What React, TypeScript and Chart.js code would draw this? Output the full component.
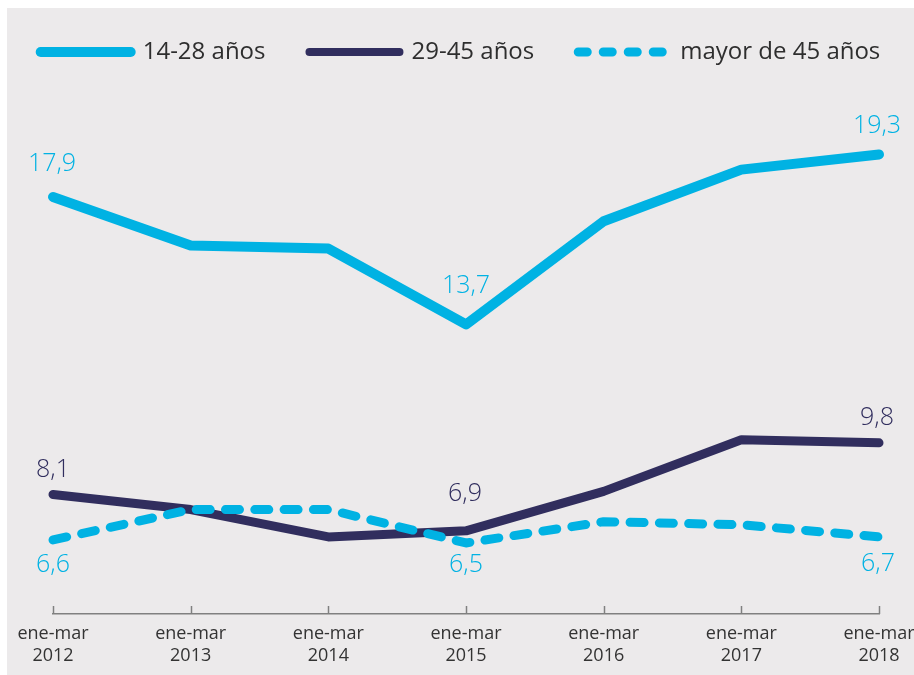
import React, { useEffect, useRef } from "react";
import { Chart, registerables } from "chart.js";

Chart.register(...registerables);

// ---------- data ----------
const categories: string[][] = [
  ["ene-mar", "2012"],
  ["ene-mar", "2013"],
  ["ene-mar", "2014"],
  ["ene-mar", "2015"],
  ["ene-mar", "2016"],
  ["ene-mar", "2017"],
  ["ene-mar", "2018"],
];
const seriesNames = ["14-28 años", "29-45 años", "mayor de 45 años"];
const youth = [17.9, 16.3, 16.2, 13.7, 17.1, 18.8, 19.3];
const adults = [8.1, 7.6, 6.7, 6.9, 8.2, 9.9, 9.8];
const seniors = [6.6, 7.6, 7.6, 6.5, 7.2, 7.1, 6.7];
const labelledIndices = [0, 3, 6];
const yMin = 4.16;
const yMax = 21.95;

// ---------- styles ----------
const LIGHT = "#00b2e3";
const NAVY = "#312e5e";
const TEXT = "#2e2e2e";
const AXIS = "#808080";
const BG = "#ecEAEB";
const FONT = '"Open Sans", "Noto Sans", sans-serif';

// label offsets (px, relative to point) per series, for labelledIndices
const labelOffsets = [
  [{ dx: -1, dy: -33 }, { dx: 0, dy: -39 }, { dx: -2, dy: -29 }],
  [{ dx: 0, dy: -25 }, { dx: -1, dy: -37 }, { dx: -2, dy: -25 }],
  [{ dx: 0, dy: 25 }, { dx: 0, dy: 22 }, { dx: -1, dy: 27 }],
];
const legendWidths = [10, 8, 9];
const legendDashes: number[][] = [[], [], [9, 16]];

const fmt = (v: number) => v.toFixed(1).replace(".", ",");

const valueLabelsPlugin = {
  id: "valueLabels",
  afterDatasetsDraw(chart: any) {
    const ctx = chart.ctx;
    ctx.save();
    ctx.font = `300 25px ${FONT}`;
    ctx.textAlign = "center";
    ctx.textBaseline = "middle";
    chart.data.datasets.forEach((ds: any, di: number) => {
      const meta = chart.getDatasetMeta(di);
      labelledIndices.forEach((idx, k) => {
        const pt = meta.data[idx];
        if (!pt) return;
        const off = labelOffsets[di][k];
        ctx.fillStyle = ds.borderColor;
        ctx.fillText(fmt(ds.data[idx]), pt.x + off.dx, pt.y + off.dy);
      });
    });
    ctx.restore();
  },
};

const upTicksPlugin = {
  id: "upTicks",
  afterDraw(chart: any) {
    const x = chart.scales.x;
    const ctx = chart.ctx;
    ctx.save();
    ctx.strokeStyle = AXIS;
    ctx.lineWidth = 1.5;
    const bottom = chart.chartArea.bottom;
    x.ticks.forEach((_t: any, i: number) => {
      const px = Math.round(x.getPixelForTick(i)) + 0.5;
      ctx.beginPath();
      ctx.moveTo(px, bottom);
      ctx.lineTo(px, bottom - 8);
      ctx.stroke();
    });
    ctx.restore();
  },
};

const hiddenSideAxis = (position: "left" | "right", width: number) => ({
  position,
  display: true,
  ticks: { display: false },
  grid: { display: false, drawTicks: false },
  border: { display: false },
  afterFit: (s: any) => {
    s.width = width;
  },
});

export default function App() {
  const ref = useRef<HTMLCanvasElement | null>(null);

  useEffect(() => {
    if (!ref.current) return;
    const lineCommon = {
      tension: 0,
      pointRadius: 0,
      pointHoverRadius: 0,
      fill: false,
      borderCapStyle: "round" as const,
      borderJoinStyle: "round" as const,
      clip: false as any,
    };
    const chart = new Chart(ref.current, {
      type: "line",
      data: {
        labels: categories,
        datasets: [
          { ...lineCommon, label: seriesNames[0], data: youth, borderColor: LIGHT, backgroundColor: LIGHT, borderWidth: 10, order: 1 },
          { ...lineCommon, label: seriesNames[1], data: adults, borderColor: NAVY, backgroundColor: NAVY, borderWidth: 9, order: 2 },
          { ...lineCommon, label: seriesNames[2], data: seniors, borderColor: LIGHT, backgroundColor: LIGHT, borderWidth: 9, borderDash: [14, 15.3], order: 0 },
        ],
      },
      options: {
        animation: false,
        responsive: false,
        layout: { padding: { top: -12, left: -20, right: -20, bottom: 0 } },
        plugins: {
          tooltip: { enabled: false },
          legend: {
            position: "top",
            align: "center",
            labels: {
              usePointStyle: true,
              pointStyleWidth: 90,
              padding: 44,
              color: TEXT,
              font: { family: FONT, size: 24 },
              generateLabels: (c: any) =>
                c.data.datasets.map((ds: any, i: number) => ({
                  text: ds.label,
                  fillStyle: ds.borderColor,
                  strokeStyle: ds.borderColor,
                  lineWidth: legendWidths[i],
                  lineCap: "round",
                  lineDash: legendDashes[i],
                  pointStyle: "line",
                  hidden: false,
                  datasetIndex: i,
                  fontColor: TEXT,
                })),
            },
          },
        },
        scales: {
          x: {
            offset: false,
            grid: { display: false, drawTicks: false },
            border: { display: true, color: AXIS, width: 1.5 },
            ticks: {
              color: "#333333",
              padding: 8.5,
              maxRotation: 0,
              autoSkip: false,
              font: { family: FONT, size: 18, lineHeight: 1.222 },
            },
            afterFit: (s: any) => {
              s.paddingLeft = 0;
              s.paddingRight = 0;
            },
          },
          y: {
            ...hiddenSideAxis("left", 66),
            min: yMin,
            max: yMax,
          },
          y2: {
            ...hiddenSideAxis("right", 55),
            min: yMin,
            max: yMax,
          },
        },
      },
      plugins: [valueLabelsPlugin, upTicksPlugin],
    });
    return () => chart.destroy();
  }, []);

  return (
    <div
      style={{
        position: "fixed",
        left: 7,
        top: 8,
        width: 907,
        height: 667,
        background: BG,
      }}
    >
      <canvas ref={ref} width={907} height={667} style={{ display: "block" }} />
    </div>
  );
}
